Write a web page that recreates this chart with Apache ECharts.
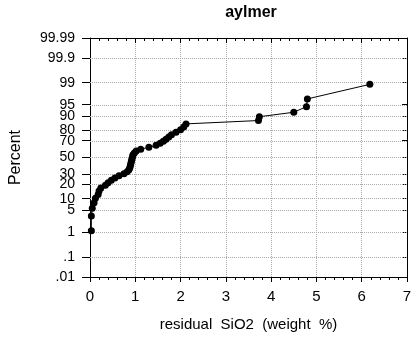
<!DOCTYPE html>
<html><head><meta charset="utf-8">
<script src="https://cdn.jsdelivr.net/npm/echarts@6/dist/echarts.min.js"></script>
<style>html,body{margin:0;padding:0;background:#fff}#c{width:419px;height:338px}</style>
</head><body><div id="c"></div>
<script>
const chartTitle = 'aylmer';
const xName = 'residual  SiO2  (weight  %)';
const yName = 'Percent';
const residual = [0.03,0.03,0.05,0.09,0.12,0.18,0.20,0.24,0.34,0.40,0.47,0.55,0.64,0.75,0.82,0.86,0.88,0.89,0.90,0.91,0.92,0.93,0.94,0.95,0.98,1.02,1.12,1.30,1.46,1.55,1.62,1.68,1.74,1.80,1.90,2.00,2.07,2.12,3.72,3.74,4.50,4.78,4.80,6.18];
const percent = [1.14,3.41,5.68,7.95,10.23,12.5,14.77,17.05,19.32,21.59,23.86,26.14,28.41,30.68,32.95,35.23,37.5,39.77,42.05,44.32,46.59,48.86,51.14,53.41,55.68,57.95,60.23,62.5,64.77,67.05,69.32,71.59,73.86,76.14,78.41,80.68,82.95,85.23,87.5,89.77,92.05,94.32,96.59,98.86];
const percentTicks = [0.01,0.1,1,5,10,20,30,50,70,80,90,95,99,99.9,99.99];
const percentTickLabels = ['.01','.1','1','5','10','20','30','50','70','80','90','95','99','99.9','99.99'];
const xMin = 0, xMax = 7, xStep = 1;

// probability (normal-quantile) scale transform
function probit(pct) {
  const p = pct / 100;
  const a=[-3.969683028665376e+01,2.209460984245205e+02,-2.759285104469687e+02,1.383577518672690e+02,-3.066479806614716e+01,2.506628277459239e+00];
  const b=[-5.447609879822406e+01,1.615858368580409e+02,-1.556989798598866e+02,6.680131188771972e+01,-1.328068155288572e+01];
  const c=[-7.784894002430293e-03,-3.223964580411365e-01,-2.400758277161838e+00,-2.549732539343734e+00,4.374664141464968e+00,2.938163982698783e+00];
  const d=[7.784695709041462e-03,3.224671290700398e-01,2.445134137142996e+00,3.754408661907416e+00];
  const pl=0.02425, ph=1-pl; let q,r;
  if (p<pl){q=Math.sqrt(-2*Math.log(p));return (((((c[0]*q+c[1])*q+c[2])*q+c[3])*q+c[4])*q+c[5])/((((d[0]*q+d[1])*q+d[2])*q+d[3])*q+1);}
  if (p<=ph){q=p-0.5;r=q*q;return (((((a[0]*r+a[1])*r+a[2])*r+a[3])*r+a[4])*r+a[5])*q/(((((b[0]*r+b[1])*r+b[2])*r+b[3])*r+b[4])*r+1);}
  q=Math.sqrt(-2*Math.log(1-p));return -(((((c[0]*q+c[1])*q+c[2])*q+c[3])*q+c[4])*q+c[5])/((((d[0]*q+d[1])*q+d[2])*q+d[3])*q+1);
}
const zTicks = percentTicks.map(probit);
const yMin = zTicks[0], yMax = zTicks[zTicks.length-1];
function zLabel(v){let best=0,bd=1e9;zTicks.forEach((z,i)=>{const dd=Math.abs(z-v);if(dd<bd){bd=dd;best=i;}});return percentTickLabels[best];}

const font = 'Liberation Sans, Arial, sans-serif';
const chart = echarts.init(document.getElementById('c'), null, {renderer:'canvas'});
const yAxisBase = {
  type:'value', min:yMin, max:yMax,
  axisLine:{show:true,onZero:false,lineStyle:{color:'#000',width:1}},
  axisTick:{show:true,customValues:zTicks,length:8,lineStyle:{color:'#000'}},
  splitLine:{show:false},
};
chart.setOption({
  animation:false,
  backgroundColor:'#fff',
  title:{text:chartTitle,left:246,top:0,textAlign:'center',textStyle:{fontFamily:font,fontSize:16,fontWeight:'bold',color:'#000'}},
  grid:{left:88,right:12,top:38,bottom:61,containLabel:false},
  xAxis:[{
    type:'value',min:xMin,max:xMax,interval:xStep,
    name:xName,nameLocation:'middle',nameGap:40,
    nameTextStyle:{fontFamily:font,fontSize:15,color:'#000'},
    axisLine:{show:true,onZero:false,lineStyle:{color:'#000'}},
    axisTick:{show:true,length:5,lineStyle:{color:'#000'}},
    minorTick:{show:true,splitNumber:5,length:3,lineStyle:{color:'#000'}},
    axisLabel:{fontFamily:font,fontSize:15,color:'#000',margin:12},
    splitLine:{show:true,lineStyle:{color:'#aaa',type:'dotted',width:1}}
  },{
    type:'value',min:xMin,max:xMax,interval:xStep,position:'top',
    axisLine:{show:true,onZero:false,lineStyle:{color:'#000'}},
    axisTick:{show:true,inside:true,length:5,lineStyle:{color:'#000'}},
    minorTick:{show:true,splitNumber:5,length:3,lineStyle:{color:'#000'}},
    axisLabel:{show:false},splitLine:{show:false}
  }],
  yAxis:[Object.assign({},yAxisBase,{
    name:yName,nameLocation:'middle',nameGap:66,nameRotate:90,
    nameTextStyle:{fontFamily:font,fontSize:16,color:'#000'},
    axisLabel:{customValues:zTicks,formatter:zLabel,fontFamily:font,fontSize:14,color:'#000',margin:15},
  }),Object.assign({},yAxisBase,{
    position:'right',axisLabel:{show:false},
    axisTick:{show:true,customValues:zTicks,inside:true,length:5,lineStyle:{color:'#000'}}
  })],
  series:[{
    type:'line',xAxisIndex:0,yAxisIndex:0,
    data:residual.map((x,i)=>[x,probit(percent[i])]),
    symbol:'circle',symbolSize:7,showSymbol:true,
    lineStyle:{color:'#000',width:1},itemStyle:{color:'#000'},
    markLine:{silent:true,symbol:'none',label:{show:false},
      lineStyle:{color:'#aaa',type:'dotted',width:1},
      data:zTicks.slice(1,-1).map(z=>({yAxis:z}))},
    z:5
  }]
});
</script></body></html>
